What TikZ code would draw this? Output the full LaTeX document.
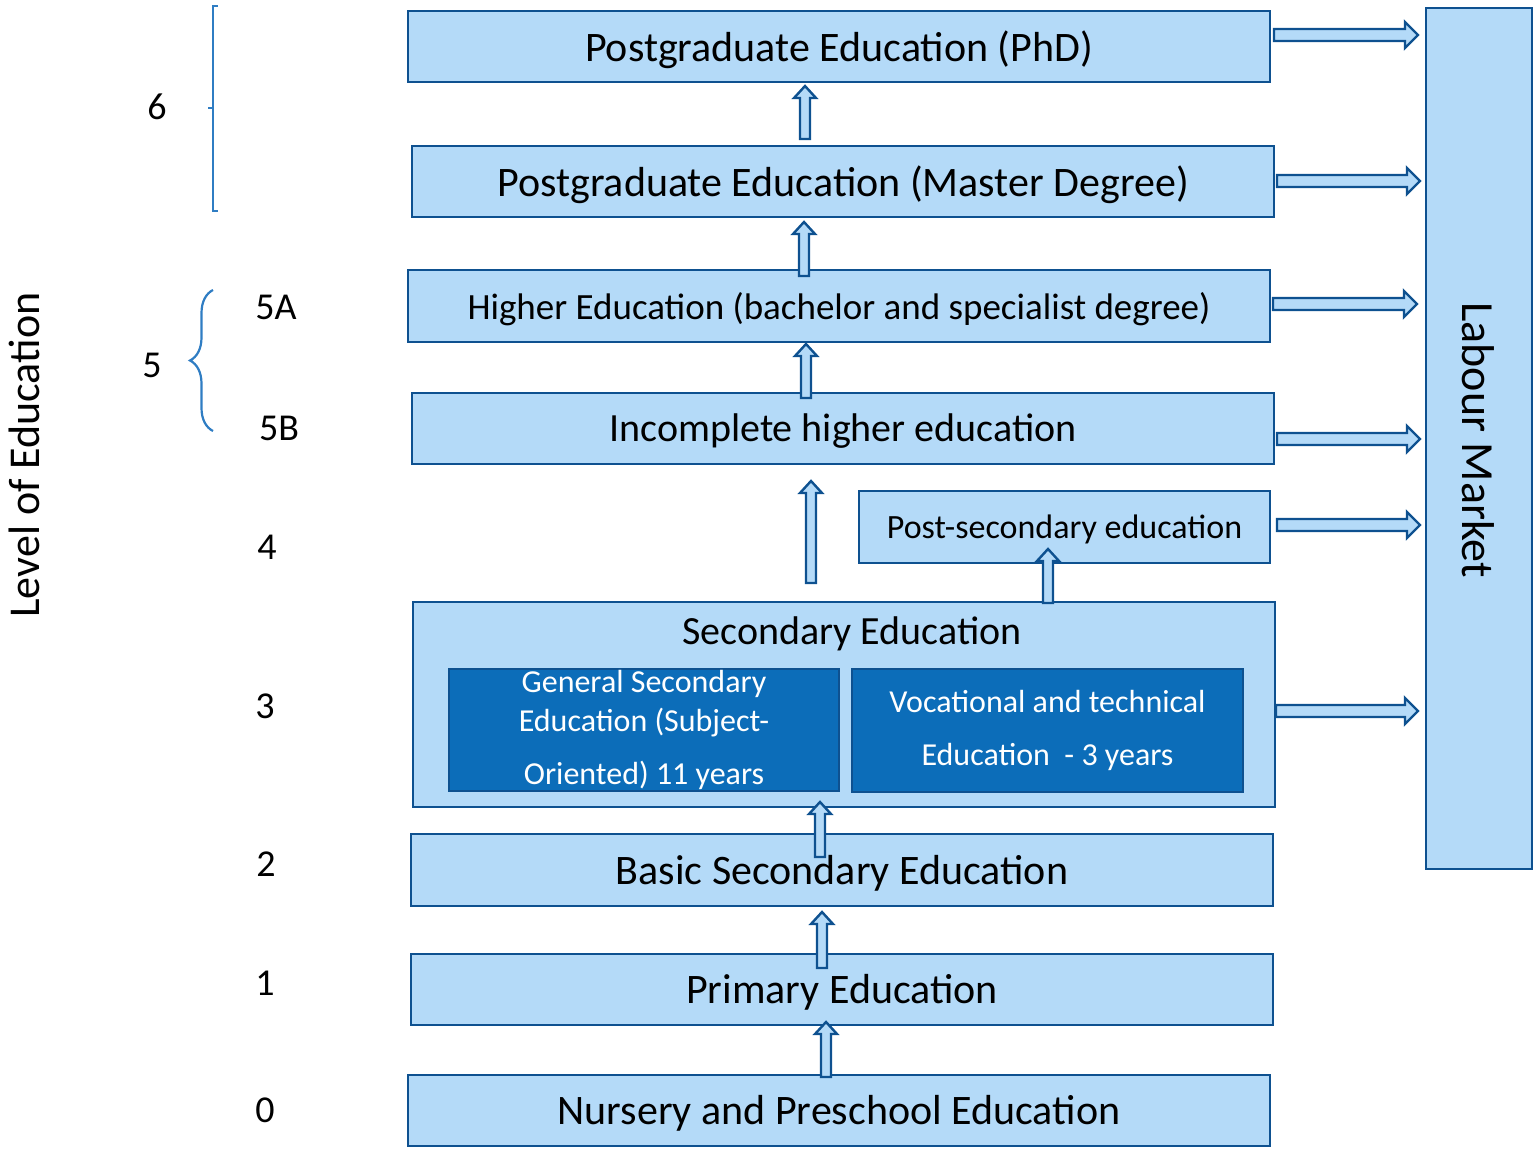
\documentclass[tikz,border=0pt]{standalone}
\usepackage{fontspec}
\setmainfont{Carlito}
\usetikzlibrary{calc,decorations.pathreplacing}
\definecolor{lfill}{HTML}{B4DAF8}
\definecolor{bdr}{HTML}{0E5190}
\definecolor{dfill}{HTML}{0C6DB9}
\definecolor{brc}{HTML}{2F7DC3}
\begin{document}
\begin{tikzpicture}[x=1pt,y=-1pt,
  box/.style={draw=bdr, fill=lfill, line width=2.8pt, anchor=north west, inner sep=0pt, outer sep=0pt, align=center, text depth=0.1em, font=\fontsize{42}{50}\selectfont},
  inbox/.style={draw=bdr, fill=dfill, line width=2.2pt, anchor=north west, inner sep=0pt, outer sep=0pt, align=center, text=white, font=\fontsize{32}{39}\selectfont},
  lvl/.style={font=\fontsize{38}{44}\selectfont, inner sep=0pt},
  barrow/.style={draw=bdr, fill=lfill, line width=2.4pt, line join=miter},
  uarrow/.style={barrow, to path={let \p1=(\tikztostart), \p2=(\tikztotarget) in
      (\x1-5pt,\y1) -- (\x1-5pt,\y2-12pt) -- (\x1-11pt,\y2-12pt) -- (\x1,\y2) -- (\x1+11pt,\y2-12pt) -- (\x1+5pt,\y2-12pt) -- (\x1+5pt,\y1) -- cycle}},
  rarrow/.style={barrow, to path={let \p1=(\tikztostart), \p2=(\tikztotarget) in
      (\x1,\y1-6pt) -- (\x2-13pt,\y1-6pt) -- (\x2-13pt,\y1-13pt) -- (\x2,\y1) -- (\x2-13pt,\y1+13pt) -- (\x2-13pt,\y1+6pt) -- (\x1,\y1+6pt) -- cycle}},
  brace/.style={draw=brc, line width=2.2pt}
]
\useasboundingbox (0,0) rectangle (1533,1148);

% boxes
\node[box, minimum width=862pt, minimum height=71pt] (phd) at (408,11) {Postgraduate Education (PhD)};
\node[box, minimum width=862pt, minimum height=71pt] (master) at (412,146) {Postgraduate Education (Master Degree)};
\node[box, minimum width=862pt, minimum height=72pt, font=\fontsize{37}{44}\selectfont] (higher) at (408,270) {Higher Education (bachelor and specialist degree)};
\node[box, minimum width=862pt, minimum height=71pt, font=\fontsize{40}{48}\selectfont] (incomplete) at (412,393) {Incomplete higher education};
\node[box, minimum width=411pt, minimum height=72pt, font=\fontsize{34}{40}\selectfont] (postsec) at (859,491) {Post-secondary education};
\node[box, minimum width=862pt, minimum height=205pt] (secondary) at (413,602) {};
\node[font=\fontsize{40}{48}\selectfont, inner sep=0pt, text depth=0.1em] (sectitle) at (852,631) {Secondary Education};
\node[inbox, minimum width=390pt, minimum height=122pt] (general) at (449,669) {General Secondary\\Education (Subject-\\[14pt]Oriented) 11 years};
\node[inbox, minimum width=391pt, minimum height=123pt] (vocational) at (852,669) {Vocational and technical\\[14pt]Education~~- 3 years};
\node[box, minimum width=862pt, minimum height=72pt] (basic) at (411,834) {Basic Secondary Education};
\node[box, minimum width=862pt, minimum height=71pt] (primary) at (411,954) {Primary Education};
\node[box, minimum width=862pt, minimum height=71pt] (nursery) at (408,1075) {Nursery and Preschool Education};
\node[box, minimum width=106pt, minimum height=861pt] (lm) at (1426,8) {};
\node[rotate=-90, font=\fontsize{46}{54}\selectfont, inner sep=0pt] (lmt) at (1478,440) {Labour Market};

% up arrows
\draw[uarrow] ([xshift=-38pt,yshift=7pt]master.north) to ([xshift=-34pt,yshift=-4pt]phd.south);
\draw[uarrow] ([xshift=-35pt,yshift=-6pt]higher.north) to ([xshift=-39pt,yshift=-5pt]master.south);
\draw[uarrow] ([xshift=-37pt,yshift=-5pt]incomplete.north) to ([xshift=-33pt,yshift=-2pt]higher.south);
\draw[uarrow] ([xshift=-33pt,yshift=19pt]secondary.north) to ([xshift=-32pt,yshift=-17pt]incomplete.south);
\draw[uarrow] ([xshift=204pt,yshift=-1pt]secondary.north) to ([xshift=-16.5pt,yshift=14pt]postsec.south);
\draw[uarrow] ([xshift=-22pt,yshift=-23pt]basic.north) to ([xshift=-24pt,yshift=5pt]secondary.south);
\draw[uarrow] ([xshift=-20pt,yshift=-14pt]primary.north) to ([xshift=-20pt,yshift=-6pt]basic.south);
\draw[uarrow] ([xshift=-13pt,yshift=-2pt]nursery.north) to ([xshift=-16pt,yshift=3pt]primary.south);

% right arrows
\draw[rarrow] ([xshift=4pt,yshift=11.5pt]phd.east) to ([xshift=-8pt]lm.west);
\draw[rarrow] ([xshift=3pt,yshift=0.5pt]master.east) to ([xshift=-6pt]lm.west);
\draw[rarrow] ([xshift=3pt,yshift=2pt]higher.east) to ([xshift=-9pt]lm.west);
\draw[rarrow] ([xshift=3pt,yshift=-10.5pt]incomplete.east) to ([xshift=-6pt]lm.west);
\draw[rarrow] ([xshift=7pt,yshift=2pt]postsec.east) to ([xshift=-6pt]lm.west);
\draw[rarrow] ([xshift=1pt,yshift=-6.5pt]secondary.east) to ([xshift=-8pt]lm.west);

% left labels
\node[rotate=90, font=\fontsize{44}{52}\selectfont, inner sep=0pt] (loe) at (24,455) {Level of Education};
\node[lvl] (l6) at (157,107) {6};
\node[lvl] (l5a) at (276,307) {5A};
\node[lvl] (l5) at (152,365) {5};
\node[lvl] (l5b) at (279,428) {5B};
\node[lvl] (l4) at (267,547) {4};
\node[lvl] (l3) at (265,706) {3};
\node[lvl] (l2) at (266,864) {2};
\node[lvl] (l1) at (265,983) {1};
\node[lvl] (l0) at (265,1110) {0};

% braces
\draw[brace] (218,6) -- (213,6) -- (213,211) -- (218,211) (213,108) -- (208,108);
\draw[brace, decorate, decoration={brace, amplitude=23pt, raise=0pt}] (213,431) -- (213,290);
\end{tikzpicture}
\end{document}
